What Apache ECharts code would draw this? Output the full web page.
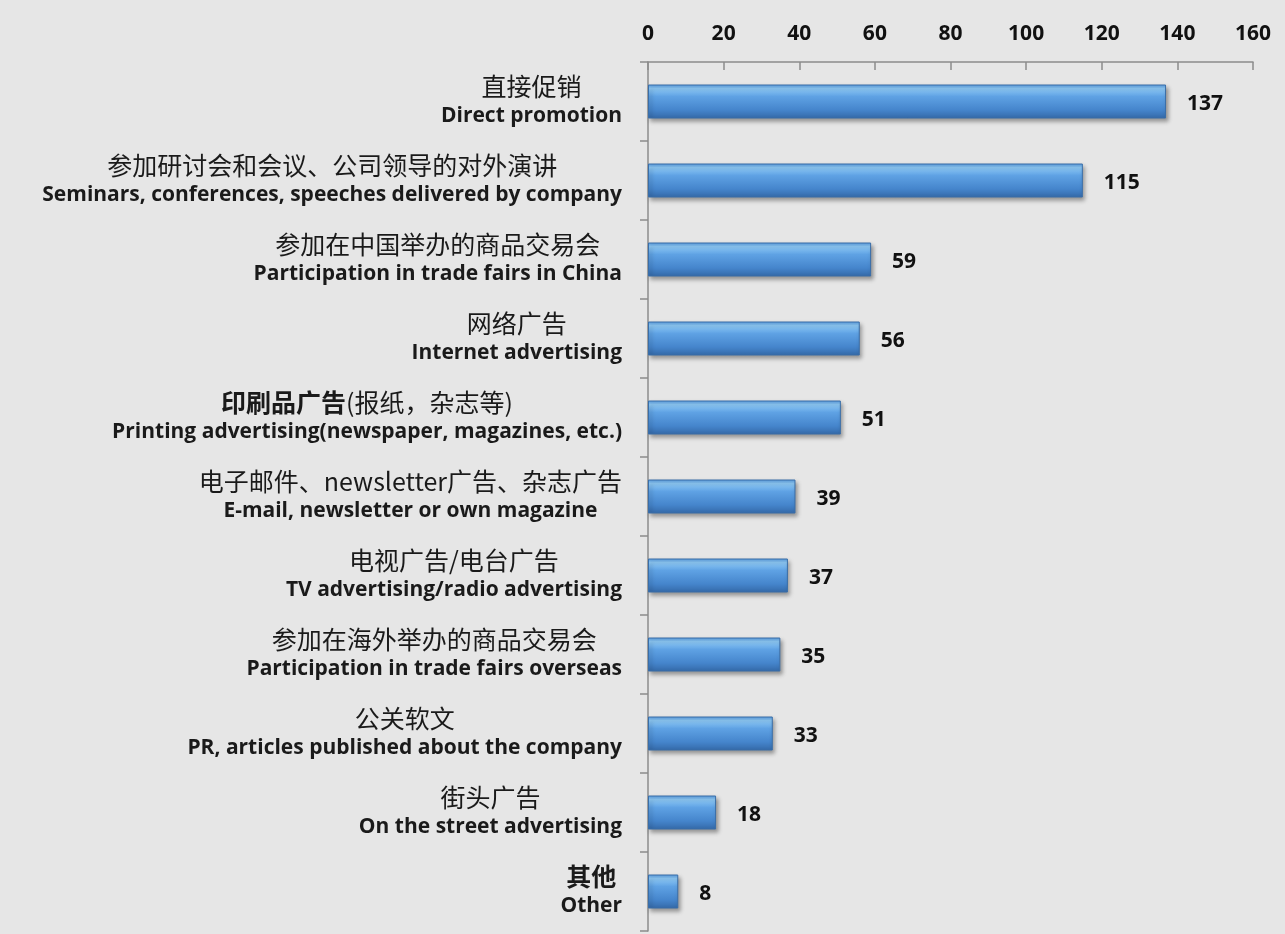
<!DOCTYPE html>
<html>
<head>
<meta charset="utf-8">
<script src="https://cdn.jsdelivr.net/npm/echarts@6/dist/echarts.min.js"></script>
<style>
  html, body { margin: 0; padding: 0; background: #e6e6e6; }
  #chart { width: 1285px; height: 934px; }
</style>
</head>
<body>
<div id="chart"></div>
<script>
// Promotion channels: Chinese name, English name, number of responses
const labelsZh = [
  '直接促销',
  '参加研讨会和会议、公司领导的对外演讲',
  '参加在中国举办的商品交易会',
  '网络广告',
  '印刷品广告(报纸，杂志等)',
  '电子邮件、newsletter广告、杂志广告',
  '电视广告/电台广告',
  '参加在海外举办的商品交易会',
  '公关软文',
  '街头广告',
  '其他'
];
const labelsEn = [
  'Direct promotion',
  'Seminars, conferences, speeches delivered by company',
  'Participation in trade fairs in China',
  'Internet advertising',
  'Printing advertising(newspaper, magazines, etc.)',
  'E-mail, newsletter or own magazine',
  'TV advertising/radio advertising',
  'Participation in trade fairs overseas',
  'PR, articles published about the company',
  'On the street advertising',
  'Other'
];
const counts = [137, 115, 59, 56, 51, 39, 37, 35, 33, 18, 8];
// number of leading characters of the Chinese name set in bold, per row
const boldZhChars = { 4: 5, 10: 2 };

const categories = labelsZh.map((z, i) => i);

const chart = echarts.init(document.getElementById('chart'));
chart.setOption({
  backgroundColor: '#e6e6e6',
  animation: false,
  grid: { left: 648, right: 32, top: 62, bottom: 3 },
  xAxis: {
    type: 'value',
    position: 'top',
    min: 0, max: 160, interval: 20,
    axisLine: { show: true, lineStyle: { color: '#8c8c8c', width: 1.5 } },
    axisTick: { show: true, inside: true, length: 8, lineStyle: { color: '#8c8c8c', width: 1.5 } },
    splitLine: { show: false },
    axisLabel: {
      color: '#111', fontFamily: '"Open Sans", sans-serif',
      fontWeight: 'bold', fontSize: 21, margin: 17
    }
  },
  yAxis: {
    type: 'category',
    inverse: true,
    data: categories,
    axisLine: { show: true, lineStyle: { color: '#8c8c8c', width: 1.5 } },
    axisTick: { show: true, length: 8, lineStyle: { color: '#8c8c8c', width: 1.5 } },
    axisLabel: {
      margin: 26,
      align: 'right',
      lineHeight: 30,
      formatter: function (v) {
        const i = Number(v);
        const zh = labelsZh[i];
        const nb = boldZhChars[i] || 0;
        let line1 = '';
        if (nb > 0) line1 += '{zb|' + zh.slice(0, nb) + '}';
        if (nb < zh.length) line1 += '{zh|' + zh.slice(nb) + '}';
        return line1 + '\n{en|' + labelsEn[i] + '}';
      },
      rich: {
        zh: { fontFamily: '"Noto Sans CJK SC", sans-serif', fontSize: 25, color: '#1a1a1a', lineHeight: 30, align: 'center' },
        zb: { fontFamily: '"Noto Sans CJK SC", sans-serif', fontSize: 25, fontWeight: 'bold', color: '#1a1a1a', lineHeight: 30, align: 'center' },
        en: { fontFamily: '"Open Sans", sans-serif', fontSize: 21, fontWeight: 'bold', color: '#1a1a1a', lineHeight: 31, align: 'center' }
      }
    }
  },
  series: [{
    type: 'bar',
    data: counts,
    barWidth: 34,
    itemStyle: {
      color: new echarts.graphic.LinearGradient(0, 0, 0, 1, [
        { offset: 0, color: '#5597dc' },
        { offset: 0.12, color: '#8ecaf7' },
        { offset: 0.35, color: '#5fa2e4' },
        { offset: 0.75, color: '#4585cc' },
        { offset: 1, color: '#3469a8' }
      ]),
      borderColor: '#3a6ea8',
      borderWidth: 1,
      shadowColor: 'rgba(0,0,0,0.35)',
      shadowBlur: 4,
      shadowOffsetX: 2,
      shadowOffsetY: 3
    },
    label: {
      show: true,
      position: 'right',
      distance: 21,
      offset: [0, 3],
      color: '#111',
      fontFamily: '"Open Sans", sans-serif',
      fontWeight: 'bold',
      fontSize: 21
    }
  }]
});
</script>
</body>
</html>
